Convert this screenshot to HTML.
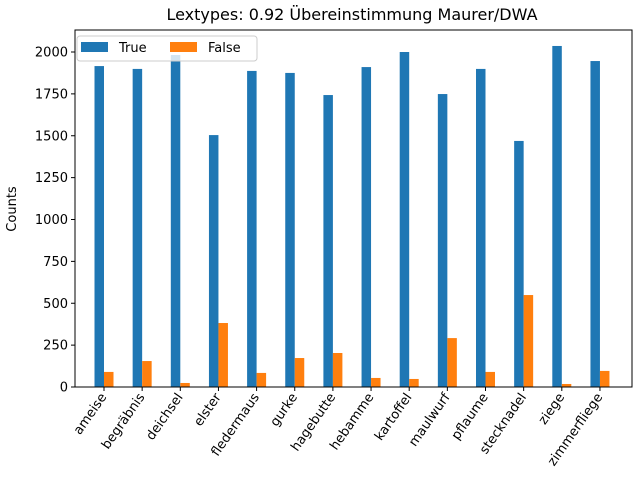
<!DOCTYPE html>
<html><head><meta charset="utf-8"><style>
body{margin:0;background:#fff;font-family:"Liberation Sans","DejaVu Sans",sans-serif}
</style></head><body>
<svg width="640" height="480" xmlns="http://www.w3.org/2000/svg" font-family="DejaVu Sans, Liberation Sans, sans-serif">
<text x="352" y="20" text-anchor="middle" font-size="16">Lextypes: 0.92 Übereinstimmung Maurer/DWA</text>
<text transform="translate(16,209) rotate(-90)" text-anchor="middle" font-size="13">Counts</text>
<g id="bars"></g>
<g id="yticks"></g>
<g id="xticks"></g>
<rect x="75" y="30" width="557" height="357" fill="none" stroke="#000" stroke-width="1"/>
<g>
<rect x="77" y="36" width="180" height="25" rx="3" fill="#fff" fill-opacity="0.8" stroke="#ccc"/>
<rect x="81" y="42" width="27" height="10" fill="#1f77b4"/>
<text x="119" y="52" font-size="13">True</text>
<rect x="170" y="42" width="27" height="10" fill="#ff7f0e"/>
<text x="208" y="52" font-size="13">False</text>
</g>
</svg>
<script>
const categories=["ameise","begräbnis","deichsel","elster","fledermaus","gurke","hagebutte","hebamme","kartoffel","maulwurf","pflaume","stecknadel","ziege","zimmerfliege"];
const trueValues=[1916,1899,1982,1504,1887,1875,1743,1910,2000,1749,1899,1469,2036,1946];
const falseValues=[90,155,24,382,84,173,203,54,48,292,90,549,18,96];
const yTickLabels=[0,250,500,750,1000,1250,1500,1750,2000];
const NS="http://www.w3.org/2000/svg";
const y0=387,k=0.1675;
function yScale(v){return y0-v*k;}
function xScale(i){return 104+i*38.15;}
const bw=9.5;
function mk(tag,attrs,parent){const e=document.createElementNS(NS,tag);for(const a in attrs)e.setAttribute(a,attrs[a]);parent.appendChild(e);return e;}
const bars=document.getElementById('bars'),yt=document.getElementById('yticks'),xt=document.getElementById('xticks');
categories.forEach((c,i)=>{
 const cx=xScale(i);
 let r=mk('rect',{x:cx-bw,y:yScale(trueValues[i]),width:bw,height:trueValues[i]*k,fill:'#1f77b4'},bars);
 
 
 r=mk('rect',{x:cx,y:yScale(falseValues[i]),width:bw,height:falseValues[i]*k,fill:'#ff7f0e'},bars);
 
 
 mk('line',{x1:cx,x2:cx,y1:387,y2:391,stroke:'#000'},xt);
 const t=mk('text',{transform:`translate(${cx+3},${397}) rotate(-55)`,'text-anchor':'end','font-size':'13'},xt);
 t.textContent=c;
 
 
});
yTickLabels.forEach(v=>{
 const y=yScale(v);
 mk('line',{x1:71,x2:75,y1:y,y2:y,stroke:'#000'},yt);
 const t=mk('text',{x:68,y:y+4.5,'text-anchor':'end','font-size':'13'},yt);
 t.textContent=v;
 
 
});
</script>
</body></html>
